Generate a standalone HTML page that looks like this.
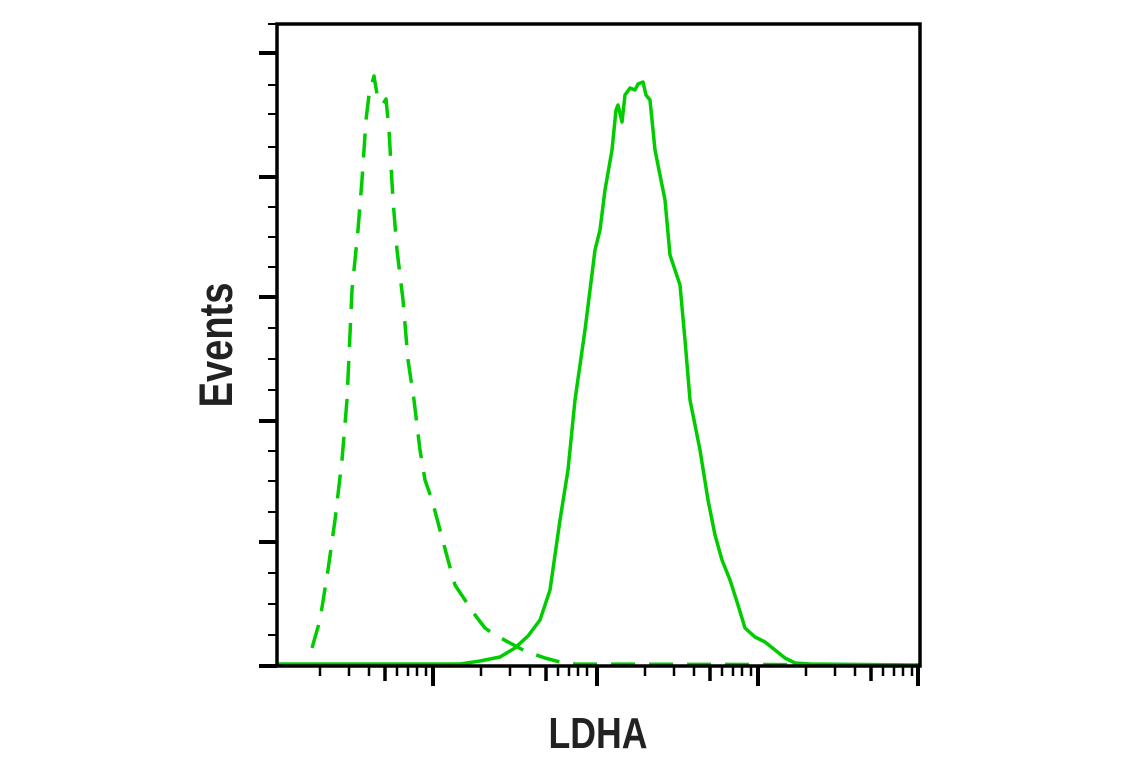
<!DOCTYPE html>
<html><head><style>body{margin:0;background:#fff}svg{display:block}</style></head><body>
<svg width="1141" height="768" viewBox="0 0 1141 768" xmlns="http://www.w3.org/2000/svg">
<rect width="1141" height="768" fill="#fff"/>
<g stroke="#00cc00" stroke-width="3.5" fill="none" stroke-linejoin="round">
<path d="M277,664 L460,664 L480,661 L500,657 L515,648 L528,636 L540,620 L550,590 L560,520 L568,470 L575,400 L585,330 L595,250 L600,230 L605,190 L612,150 L616,110 L618,105 L622,122 L625,95 L630,88 L635,90 L638,84 L643,82 L646,95 L650,100 L655,150 L660,175 L665,200 L670,255 L680,285 L685,340 L690,400 L700,450 L708,500 L715,535 L722,560 L730,580 L738,605 L745,628 L755,637 L765,642 L775,650 L785,658 L795,663 L810,664 L920,665"/>
<path stroke-dasharray="24,14" d="M312,648 L320,620 L328,570 L335,520 L342,460 L347,400 L352,290 L358,230 L362,180 L366,120 L369,95 L374,76 L378,100 L383,104 L386,99 L389,130 L393,200 L397,250 L403,300 L408,360 L414,400 L420,450 L425,480 L432,500 L440,530 L448,560 L455,585 L465,600 L475,615 L485,628 L495,635 L510,643 L525,651 L545,658 L560,662 L575,664 L920,665"/>
</g>
<g stroke="#000" fill="none">
<rect x="277" y="24" width="643" height="642" stroke-width="3.5"/>
<g stroke-width="4"><line x1="259" y1="53" x2="277" y2="53"/><line x1="259" y1="177" x2="277" y2="177"/><line x1="259" y1="297" x2="277" y2="297"/><line x1="259" y1="421" x2="277" y2="421"/><line x1="259" y1="542" x2="277" y2="542"/><line x1="259" y1="666" x2="277" y2="666"/></g>
<g stroke-width="2">
<line x1="268" y1="24" x2="277" y2="24"/>
<line x1="268" y1="85" x2="277" y2="85"/><line x1="268" y1="114" x2="277" y2="114"/><line x1="268" y1="147" x2="277" y2="147"/>
<line x1="268" y1="207" x2="277" y2="207"/><line x1="268" y1="237" x2="277" y2="237"/><line x1="268" y1="267" x2="277" y2="267"/>
<line x1="268" y1="328" x2="277" y2="328"/><line x1="268" y1="359" x2="277" y2="359"/><line x1="268" y1="390" x2="277" y2="390"/>
<line x1="268" y1="451" x2="277" y2="451"/><line x1="268" y1="481" x2="277" y2="481"/><line x1="268" y1="512" x2="277" y2="512"/>
<line x1="268" y1="573" x2="277" y2="573"/><line x1="268" y1="604" x2="277" y2="604"/><line x1="268" y1="635" x2="277" y2="635"/>
</g>
<g stroke-width="4"><line x1="433" y1="666" x2="433" y2="686"/><line x1="597" y1="666" x2="597" y2="686"/><line x1="758" y1="666" x2="758" y2="686"/><line x1="918" y1="666" x2="918" y2="686"/></g>
<g stroke-width="2.5">
<line x1="320" y1="666" x2="320" y2="676"/><line x1="349" y1="666" x2="349" y2="676"/><line x1="369" y1="666" x2="369" y2="676"/><line x1="385" y1="666" x2="385" y2="681" stroke-width="3.5"/><line x1="397" y1="666" x2="397" y2="676"/><line x1="408" y1="666" x2="408" y2="676"/><line x1="417" y1="666" x2="417" y2="676"/><line x1="426" y1="666" x2="426" y2="676"/>
<line x1="481" y1="666" x2="481" y2="676"/><line x1="510" y1="666" x2="510" y2="676"/><line x1="530" y1="666" x2="530" y2="676"/><line x1="546" y1="666" x2="546" y2="681" stroke-width="3.5"/><line x1="558" y1="666" x2="558" y2="676"/><line x1="569" y1="666" x2="569" y2="676"/><line x1="578" y1="666" x2="578" y2="676"/><line x1="587" y1="666" x2="587" y2="676"/>
<line x1="645" y1="666" x2="645" y2="676"/><line x1="674" y1="666" x2="674" y2="676"/><line x1="694" y1="666" x2="694" y2="676"/><line x1="710" y1="666" x2="710" y2="681" stroke-width="3.5"/><line x1="722" y1="666" x2="722" y2="676"/><line x1="733" y1="666" x2="733" y2="676"/><line x1="742" y1="666" x2="742" y2="676"/><line x1="751" y1="666" x2="751" y2="676"/>
<line x1="806" y1="666" x2="806" y2="676"/><line x1="835" y1="666" x2="835" y2="676"/><line x1="855" y1="666" x2="855" y2="676"/><line x1="871" y1="666" x2="871" y2="681" stroke-width="3.5"/><line x1="883" y1="666" x2="883" y2="676"/><line x1="894" y1="666" x2="894" y2="676"/><line x1="903" y1="666" x2="903" y2="676"/><line x1="912" y1="666" x2="912" y2="676"/>
</g>
</g>
<text transform="translate(232,345) rotate(-90) scale(0.81,1)" text-anchor="middle" font-family="Liberation Sans, sans-serif" font-weight="bold" font-size="47" fill="#222">Events</text>
<text transform="translate(598,748) scale(0.81,1)" text-anchor="middle" font-family="Liberation Sans, sans-serif" font-weight="bold" font-size="44" fill="#222">LDHA</text>
</svg>
</body></html>
